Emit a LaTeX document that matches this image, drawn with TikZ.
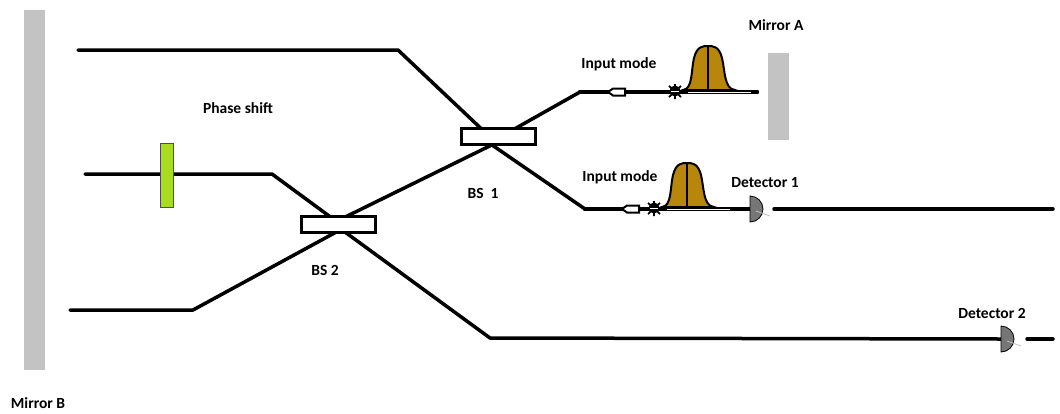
\documentclass[tikz,border=0pt]{standalone}
\usepackage{fontspec}
\setmainfont{Carlito}
\usetikzlibrary{calc}
\begin{document}
\begin{tikzpicture}[x=1pt,y=-1pt,
  beam/.style={line width=3.5pt,line cap=round,line join=round},
  bsbox/.style={draw,line width=3pt,fill=white,minimum width=74pt,minimum height=16pt,inner sep=0pt},
  mirror/.style={fill=mirrorgray,draw=none,inner sep=0pt},
  lbl/.style={font=\fontsize{15.5}{18}\selectfont\bfseries,inner sep=0pt},
  detshape/.style={fill=detgray,draw=black,line width=0.8pt},
  pulsefill/.style={fill=pulsegold,draw=black,line width=2pt},
]
\definecolor{mirrorgray}{RGB}{195,195,195}
\definecolor{detgray}{RGB}{118,118,118}
\definecolor{pulsegold}{RGB}{184,134,11}
\definecolor{phasegreen}{RGB}{170,220,30}
\tikzset{
  pulsepic/.pic={
    \draw[line width=4.5pt] (-36,2) -- (48,2);
    \draw[white,line width=1.3pt] (-20,2.5) -- (43,2.5);
    \draw[pulsefill] (-25,0) .. controls (-15,-1) and (-17,-20) .. (-14,-32)
       .. controls (-11,-44) and (-5,-44) .. (0,-44)
       .. controls (5,-44) and (11,-44) .. (14,-32)
       .. controls (17,-20) and (16,-1) .. (27,0) -- cycle;
    \draw[line width=1.5pt] (0,0) -- (0,-44);
    \draw[line width=2pt] (-25,0) -- (27,0);
    \fill (-33,1) circle (5.5pt);
    \draw[line width=1.8pt] (-39,-4) -- (-27,7) (-39,7) -- (-27,-4) (-33,-6) -- (-33,9);
    \draw[white,line width=1pt] (-37,1) -- (-29,1);
  },
  penpic/.pic={
    \draw[fill=white,line width=2pt] (0,0) -- (5,-3.5) -- (17,-3.5) -- (17,3.5) -- (5,3.5) -- cycle;
  }
}
\useasboundingbox (0,0) rectangle (1060,413);

% mirrors
\node[mirror,minimum width=21pt,minimum height=360pt] (mirB) at (34.5,190) {};
\node[mirror,minimum width=21pt,minimum height=87pt] (mirA) at (778.5,96.5) {};
\node[lbl] (lmirB) at (38,403) {Mirror B};
\node[lbl] (lmirA) at (776,25) {Mirror A};

% beam splitter anchors
\coordinate (bs1c) at (498,136);
\coordinate (bs2c) at (338.5,224.5);

% named path points
\coordinate (t0) at (78,50);
\coordinate (t1) at (398,50);
\coordinate (t2) at (489,136);
\coordinate (u0) at (502,136);
\coordinate (u1) at (580,92);
\coordinate (m0) at (510,136);
\coordinate (m1) at (331,224);
\coordinate (d0) at (479,136);
\coordinate (d1) at (585,209);
\coordinate (p0) at (85,174);
\coordinate (p1) at (272,174);
\coordinate (p2) at (340,224);
\coordinate (b0) at (70,310);
\coordinate (b1) at (193,310);
\coordinate (b2) at (351,224);
\coordinate (r0) at (334,224);
\coordinate (r1) at (490,338);

% beams
\draw[beam] (t0) -- (t1) -- (t2);
\draw[beam] (u0) -- (u1);
\draw[beam] (m0) -- (m1);
\draw[beam] (d0) -- (d1);
\draw[beam] (p0) -- (p1) -- (p2);
\draw[beam] (b0) -- (b1) -- (b2);

% detectors
\coordinate (det1c) at (750,209);
\coordinate (det2c) at (1001,339);
\coordinate (det1r) at (774,209);
\coordinate (det2r) at (1027,339);
\coordinate (end1) at (1053,209);
\coordinate (end2) at (1053,339);
\draw[beam] (r0) -- (r1) -- (det2c);
\draw[beam] (det2r) -- (end2);
\draw[beam] (d1) -- (det1c);
\draw[beam] (det1r) -- (end1);
\draw[detshape] (det1c) ++(0,-13) arc[start angle=-90,end angle=90,radius=13] -- cycle;
\draw[detshape] (det2c) ++(0,-13) arc[start angle=-90,end angle=90,radius=13] -- cycle;
\draw[gray!50,line width=0.8pt] ($(det1c)+(6,2)$) -- ($(det1c)+(20,7)$);
\draw[gray!50,line width=0.8pt] ($(det2c)+(6,2)$) -- ($(det2c)+(20,7)$);
\node[inner sep=0pt,minimum size=26pt] (det1) at (det1c) {};
\node[inner sep=0pt,minimum size=26pt] (det2) at (det2c) {};
\node[lbl] (ldet1) at (765,183) {Detector 1};
\node[lbl] (ldet2) at (992,313) {Detector 2};

% beam splitters
\node[bsbox] (bs1) at (bs1c) {};
\node[bsbox] (bs2) at (bs2c) {};
\node[lbl] (lbs1) at (483,193) {BS\ \ 1};
\node[lbl] (lbs2) at (325,270) {BS 2};

% phase shifter
\node[fill=phasegreen,draw=black!70,line width=1pt,minimum width=13pt,minimum height=64pt,inner sep=0pt] (phase) at (166.5,175) {};
\node[lbl] (lphase) at (238,108) {Phase shift};

% upper arm (to mirror A)
\coordinate (ua1) at (757,92);
\draw[beam,line width=4.5pt] (u1) -- (672,92);
\pic at (608,92) {penpic};
\pic at (708,90) {pulsepic};
\fill (ua1) circle (2.2pt);
\node[lbl] (lin1) at (619,64) {Input mode};

% lower arm (to detector 1)
\draw[beam,line width=4.5pt] (d1) -- (650,209);
\pic at (622,209) {penpic};
\pic at (687,207) {pulsepic};
\node[lbl] (lin2) at (620,177) {Input mode};
\end{tikzpicture}
\end{document}
